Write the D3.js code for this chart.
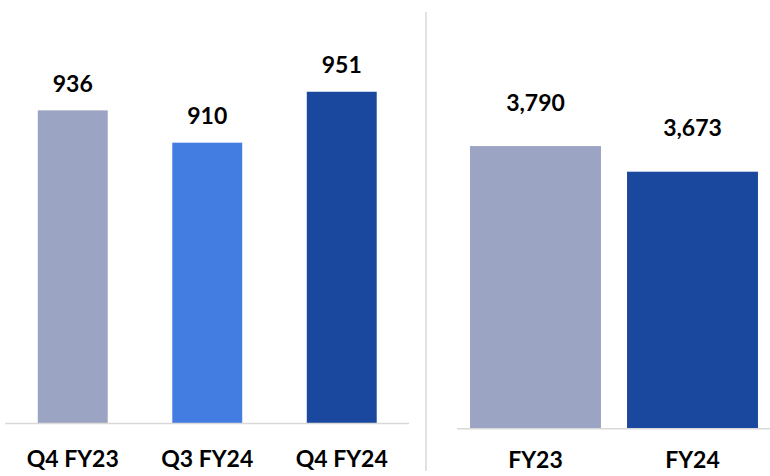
<!DOCTYPE html>
<html>
<head>
<meta charset="utf-8">
<script src="https://cdn.jsdelivr.net/npm/d3@7"></script>
<style>
  html, body { margin: 0; padding: 0; background: #fff; }
  svg { display: block; }
  text { font-family: Lato, "Open Sans", sans-serif; font-weight: 700; fill: #000; }
</style>
</head>
<body>
<svg id="chart" width="770" height="476"></svg>
<script>
// Quarterly figures
const quarterCategories = ["Q4 FY23", "Q3 FY24", "Q4 FY24"];
const quarterValues = [936, 910, 951];
const quarterColors = ["#9ba4c2", "#447de1", "#1a489f"];

// Full-year figures
const yearCategories = ["FY23", "FY24"];
const yearValues = [3790, 3673];
const yearColors = ["#9ba4c2", "#1a489f"];

const svg = d3.select("#chart");
const fmt = d3.format(",");

function panel(cfg) {
  const x = d3.scaleBand()
    .domain(cfg.categories)
    .range(cfg.xRange)
    .paddingInner(cfg.padInner)
    .paddingOuter(cfg.padOuter);
  const y = d3.scaleLinear().domain(cfg.yDomain).range(cfg.yRange);
  const g = svg.append("g");

  g.selectAll("rect.bar")
    .data(cfg.values)
    .join("rect")
    .attr("class", "bar")
    .attr("x", (d, i) => x(cfg.categories[i]))
    .attr("width", x.bandwidth())
    .attr("y", d => y(d))
    .attr("height", d => y(cfg.yDomain[0]) - y(d))
    .attr("fill", (d, i) => cfg.colors[i]);

  // baseline
  g.append("line")
    .attr("x1", cfg.axisX[0]).attr("x2", cfg.axisX[1])
    .attr("y1", y(cfg.yDomain[0])).attr("y2", y(cfg.yDomain[0]))
    .attr("stroke", "#d9d9d9").attr("stroke-width", 1.5);

  // value labels
  g.selectAll("text.val")
    .data(cfg.values)
    .join("text")
    .attr("class", "val")
    .attr("x", (d, i) => x(cfg.categories[i]) + x.bandwidth() / 2)
    .attr("y", d => y(d) - cfg.labelGap)
    .attr("text-anchor", "middle")
    .attr("font-size", 23)
    .text(d => fmt(d));

  // category labels
  const axis = d3.axisBottom(x).tickSize(0).tickPadding(0);
  const ax = g.append("g")
    .attr("transform", `translate(0,${cfg.catY})`)
    .call(axis);
  ax.select(".domain").remove();
  ax.selectAll("text")
    .attr("font-size", 23)
    .attr("dy", 0)
    .style("font-family", "Lato, 'Open Sans', sans-serif")
    .style("font-weight", 700)
    .attr("fill", "#000");
}

panel({
  categories: quarterCategories,
  values: quarterValues,
  colors: quarterColors,
  xRange: [5.5, 409],
  padInner: 0.48,
  padOuter: 0.24,
  yDomain: [684, 1000],
  yRange: [423.5, 423.5 - 316 * 1.2425],
  axisX: [5, 409],
  labelGap: 18.5,
  catY: 466.5
});

panel({
  categories: yearCategories,
  values: yearValues,
  colors: yearColors,
  xRange: [457, 771],
  padInner: 0.166,
  padOuter: 0.083,
  yDomain: [2500, 4000],
  yRange: [428.7, 428.7 - 1500 * 0.2191],
  axisX: [457, 770],
  labelGap: 35.5,
  catY: 468.3
});

// divider between the two panels
svg.append("line")
  .attr("x1", 426).attr("x2", 426)
  .attr("y1", 12).attr("y2", 471)
  .attr("stroke", "#d9d9d9").attr("stroke-width", 1.5);
</script>
</body>
</html>
